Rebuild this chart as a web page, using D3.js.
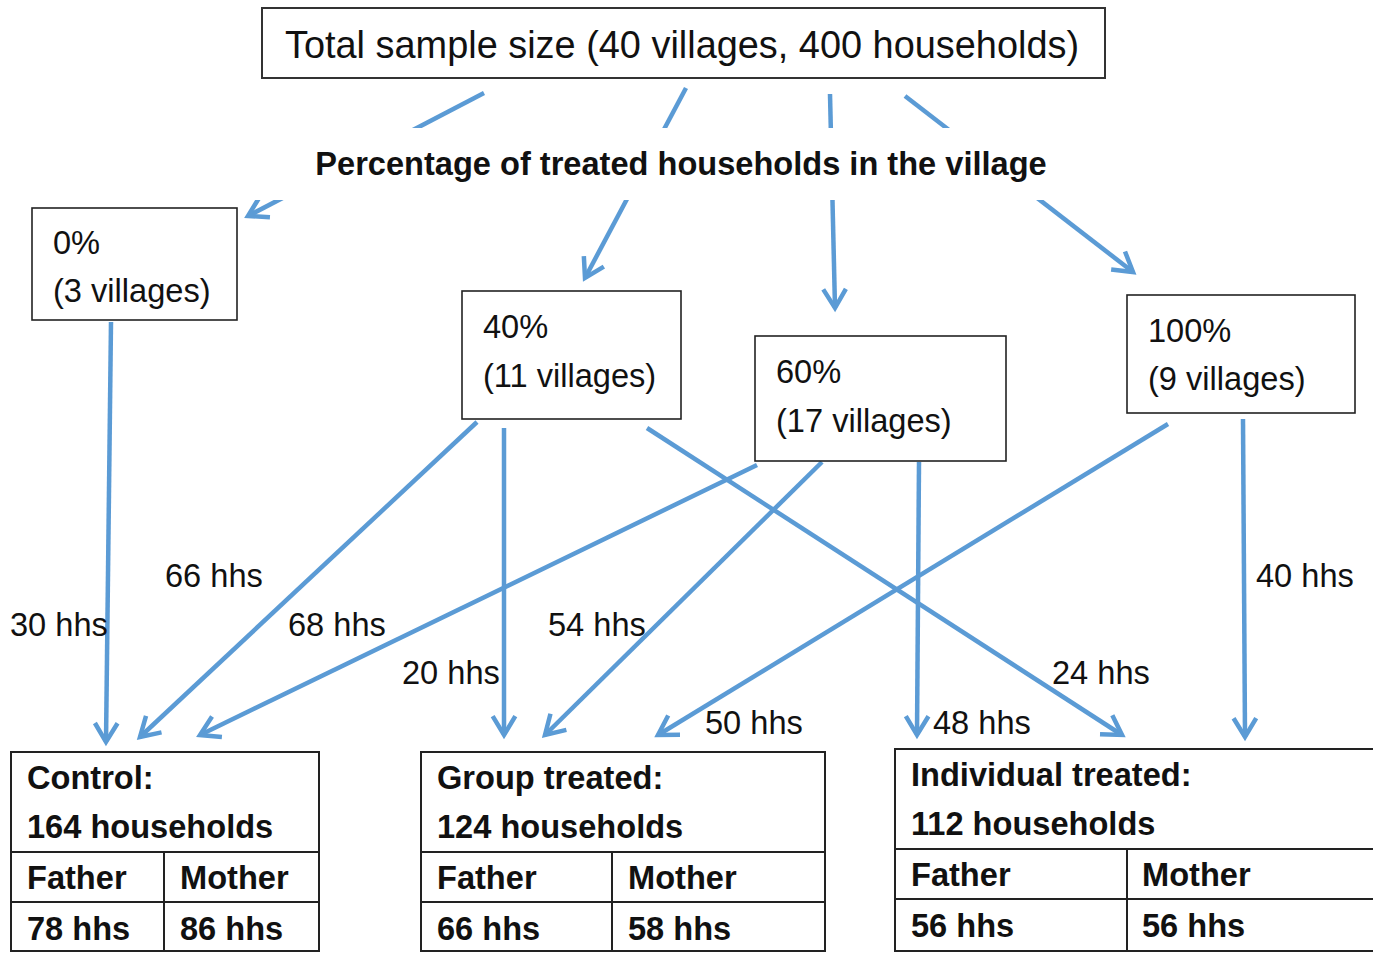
<!DOCTYPE html>
<html>
<head>
<meta charset="utf-8">
<script src="https://cdn.jsdelivr.net/npm/d3@7"></script>
<style>
  html, body { margin: 0; padding: 0; background: #fff; }
  svg { display: block; font-family: "Liberation Sans", Arial, sans-serif; }
</style>
</head>
<body>
<svg id="chart" width="1373" height="953"></svg>
<script>
// ---------------- DATA ----------------
const totalVillages = 40;
const totalHouseholds = 400;
const treatmentShares = ["0%", "40%", "60%", "100%"];
const villageCounts = [3, 11, 17, 9];
const arms = ["Control", "Group treated", "Individual treated"];
const armHouseholds = [164, 124, 112];
const fatherHhs = [78, 66, 56];
const motherHhs = [86, 58, 56];
const flowFrom = ["0%", "40%", "60%", "40%", "60%", "100%", "60%", "40%", "100%"];
const flowTo = ["Control", "Control", "Control", "Group treated", "Group treated", "Group treated",
                "Individual treated", "Individual treated", "Individual treated"];
const flowHhs = [30, 66, 68, 20, 54, 50, 48, 24, 40];

// ---------------- LAYOUT ----------------
const BLUE = "#5b9bd5";
const INK = "#111";
const FS = 32.6;
const FSB = 32.6;

const svg = d3.select("#chart");

// village-share boxes layout
const shareBox = {
  "0%":   {x: 32,   y: 208, w: 205, h: 112, t1: 254, t2: 302},
  "40%":  {x: 462,  y: 291, w: 219, h: 128, t1: 338, t2: 387},
  "60%":  {x: 755,  y: 336, w: 251, h: 125, t1: 383, t2: 432},
  "100%": {x: 1127, y: 295, w: 228, h: 118, t1: 342, t2: 390}
};
// top arrows (from total box to share boxes)
const topArrow = {
  "0%":   [[484, 93], [248, 216]],
  "40%":  [[686, 88], [585, 278]],
  "60%":  [[830, 94], [835, 308]],
  "100%": [[905, 96], [1133, 272]]
};
// flow arrows [start, end, label position]
const flowGeom = [
  [[111, 322], [106, 742], [10, 636]],
  [[477, 422], [140, 737], [165, 587]],
  [[757, 465], [200, 735], [288, 636]],
  [[504, 428], [504, 735], [402, 684]],
  [[822, 462], [545, 735], [548, 636]],
  [[1168, 424], [658, 735], [705, 734]],
  [[919, 462], [917, 735], [933, 734]],
  [[647, 428], [1122, 735], [1052, 684]],
  [[1243, 419], [1245, 737], [1256, 587]]
];
// result tables layout
const armTable = {
  "Control":            {x: 11,  y: 752, w: 308, col: 164, tx: 27,  mx: 180, dy: 0},
  "Group treated":      {x: 421, y: 752, w: 404, col: 612, tx: 437, mx: 628, dy: 0},
  "Individual treated": {x: 895, y: 749, w: 490, col: 1127, tx: 911, mx: 1142, dy: -3}
};

const line = d3.line();

function arrowHead(p0, p1, len = 22, ang = 31 * Math.PI / 180) {
  const a = Math.atan2(p1[1] - p0[1], p1[0] - p0[0]);
  const l = [p1[0] - len * Math.cos(a - ang), p1[1] - len * Math.sin(a - ang)];
  const r = [p1[0] - len * Math.cos(a + ang), p1[1] - len * Math.sin(a + ang)];
  return line([l, p1, r]);
}

// ---------------- TOP ARROWS ----------------
const gTop = svg.append("g");
treatmentShares.forEach(s => {
  const [p0, p1] = topArrow[s];
  gTop.append("path").attr("d", line([p0, p1]))
    .attr("stroke", BLUE).attr("stroke-width", 4.5).attr("fill", "none");
  gTop.append("path").attr("d", arrowHead(p0, p1))
    .attr("stroke", BLUE).attr("stroke-width", 4.5).attr("fill", "none")
    .attr("stroke-linejoin", "miter");
});

// header band (hides the arrows behind the heading)
svg.append("rect").attr("x", 230).attr("y", 128).attr("width", 920).attr("height", 72).attr("fill", "#fff");
svg.append("text").attr("x", 681).attr("y", 175).attr("text-anchor", "middle")
  .attr("font-size", FSB).attr("font-weight", "bold").attr("fill", INK)
  .text("Percentage of treated households in the village");

// ---------------- TOTAL BOX ----------------
svg.append("rect").attr("x", 262).attr("y", 8).attr("width", 843).attr("height", 70)
  .attr("fill", "#fff").attr("stroke", "#333").attr("stroke-width", 2);
svg.append("text").attr("x", 285).attr("y", 58).attr("font-size", 37.9).attr("fill", INK)
  .text(`Total sample size (${totalVillages} villages, ${totalHouseholds} households)`);

// ---------------- FLOW ARROWS ----------------
const gFlow = svg.append("g");
flowHhs.forEach((v, i) => {
  const [p0, p1] = flowGeom[i];
  gFlow.append("path").attr("d", line([p0, p1]))
    .attr("stroke", BLUE).attr("stroke-width", 4.5).attr("fill", "none");
  gFlow.append("path").attr("d", arrowHead(p0, p1))
    .attr("stroke", BLUE).attr("stroke-width", 4.5).attr("fill", "none");
});
flowHhs.forEach((v, i) => {
  const lp = flowGeom[i][2];
  svg.append("text").attr("x", lp[0]).attr("y", lp[1]).attr("font-size", FS).attr("fill", INK)
    .text(`${v} hhs`);
});

// ---------------- SHARE BOXES ----------------
treatmentShares.forEach((s, i) => {
  const b = shareBox[s];
  const g = svg.append("g");
  g.append("rect").attr("x", b.x).attr("y", b.y).attr("width", b.w).attr("height", b.h)
    .attr("fill", "#fff").attr("stroke", "#222").attr("stroke-width", 1.6);
  g.append("text").attr("x", b.x + 21).attr("y", b.t1).attr("font-size", FS).attr("fill", INK).text(s);
  g.append("text").attr("x", b.x + 21).attr("y", b.t2).attr("font-size", FS).attr("fill", INK)
    .text(`(${villageCounts[i]} villages)`);
});

// ---------------- ARM TABLES ----------------
arms.forEach((a, i) => {
  const t = armTable[a];
  const g = svg.append("g");
  const bottom = 951;
  g.append("rect").attr("x", t.x).attr("y", t.y).attr("width", t.w).attr("height", bottom - t.y)
    .attr("fill", "#fff").attr("stroke", "#222").attr("stroke-width", 2);
  g.append("line").attr("x1", t.x).attr("x2", t.x + t.w).attr("y1", t.y + 100).attr("y2", t.y + 100)
    .attr("stroke", "#222").attr("stroke-width", 2);
  g.append("line").attr("x1", t.x).attr("x2", t.x + t.w).attr("y1", t.y + 150).attr("y2", t.y + 150)
    .attr("stroke", "#222").attr("stroke-width", 2);
  g.append("line").attr("x1", t.col).attr("x2", t.col).attr("y1", t.y + 100).attr("y2", bottom)
    .attr("stroke", "#222").attr("stroke-width", 2);
  const base = 789 + t.dy;
  const txt = (x, y, s) => g.append("text").attr("x", x).attr("y", y).attr("font-size", FSB)
    .attr("font-weight", "bold").attr("fill", INK).text(s);
  txt(t.tx, base, `${a}:`);
  txt(t.tx, base + 49, `${armHouseholds[i]} households`);
  txt(t.tx, base + 100, "Father");
  txt(t.mx, base + 100, "Mother");
  txt(t.tx, base + 151, `${fatherHhs[i]} hhs`);
  txt(t.mx, base + 151, `${motherHhs[i]} hhs`);
});
</script>
</body>
</html>
